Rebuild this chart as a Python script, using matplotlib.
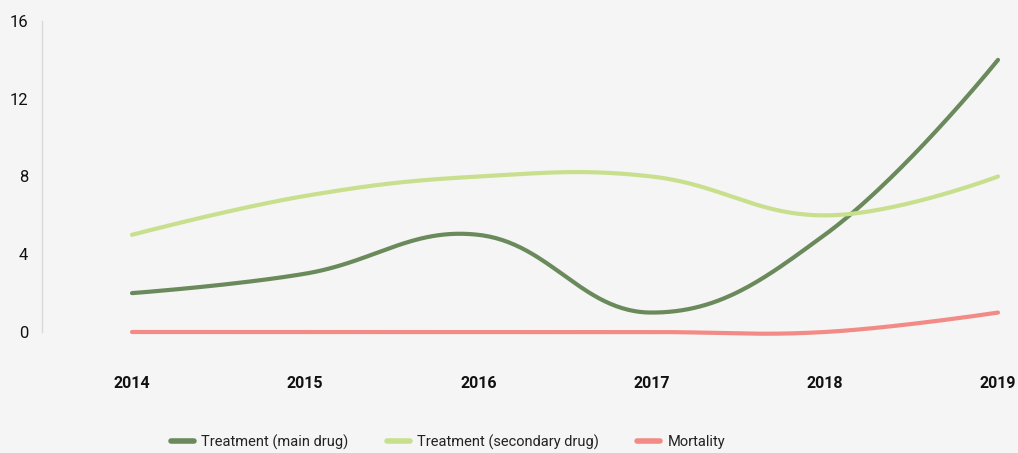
import numpy as np
import matplotlib
matplotlib.use("Agg")
import matplotlib.pyplot as plt
from matplotlib import font_manager

years = [2014, 2015, 2016, 2017, 2018, 2019]
main_drug = [2, 3, 5, 1, 5, 14]
secondary_drug = [5, 7, 8, 8, 6, 8]
mortality = [0, 0, 0, 0, 0, 1]
series_labels = ["Treatment (main drug)", "Treatment (secondary drug)", "Mortality"]
series_colors = ["#6a8a5c", "#c8e08e", "#f28b86"]
y_ticks = [0, 4, 8, 12, 16]

available = {f.name for f in font_manager.fontManager.ttflist}
family = [f for f in ["Liberation Sans Narrow", "Roboto", "DejaVu Sans"] if f in available]
plt.rcParams["font.family"] = family

BG = "#f5f5f5"
W, H = 1018, 453
fig = plt.figure(figsize=(W / 100, H / 100), dpi=100, facecolor=BG)
left_px, right_px, top_px, bottom_px = 42, 1012, 21, 332
ax = fig.add_axes([left_px / W, 1 - bottom_px / H, (right_px - left_px) / W, (bottom_px - top_px) / H])
ax.set_facecolor(BG)

px_per_year = (998 - 132) / 5
ax.set_xlim(2014 - (132 - left_px) / px_per_year, 2019 + (right_px - 998) / px_per_year)
ax.set_ylim(0, 16)


def spline_path(xs, ys, tension=0.4):
    """Cardinal-style bezier spline computed in display space."""
    pts = ax.transData.transform(np.column_stack([xs, ys]))
    n = len(pts)
    ctrl_prev = pts.copy()
    ctrl_next = pts.copy()
    for i in range(1, n - 1):
        p0, p1, p2 = pts[i - 1], pts[i], pts[i + 1]
        d01 = np.hypot(*(p1 - p0))
        d12 = np.hypot(*(p2 - p1))
        s01 = d01 / (d01 + d12)
        s12 = d12 / (d01 + d12)
        ctrl_prev[i] = p1 - tension * s01 * (p2 - p0)
        ctrl_next[i] = p1 + tension * s12 * (p2 - p0)
    out = [pts[0]]
    t = np.linspace(0, 1, 60)[1:, None]
    for i in range(n - 1):
        a, b, c, d = pts[i], ctrl_next[i], ctrl_prev[i + 1], pts[i + 1]
        seg = ((1 - t) ** 3) * a + 3 * ((1 - t) ** 2) * t * b + 3 * (1 - t) * t ** 2 * c + t ** 3 * d
        out.extend(seg)
    out = np.array(out)
    return ax.transData.inverted().transform(out).T


for vals, lab, col in zip([main_drug, secondary_drug, mortality], series_labels, series_colors):
    sx, sy = spline_path(years, vals)
    ax.plot(sx, sy, color=col, lw=3, solid_capstyle="round", clip_on=False, zorder=3)
    ax.plot([], [], color=col, lw=4, label=lab, solid_capstyle="round")

for s in ["top", "right", "bottom"]:
    ax.spines[s].set_visible(False)
ax.spines["left"].set_color("#d9d9d9")
ax.spines["left"].set_linewidth(1)

ax.set_yticks(y_ticks)
ax.set_yticklabels([str(v) for v in y_ticks], fontsize=12, color="#111111")
ax.tick_params(axis="y", length=0, pad=10)
ax.set_xticks(years)
ax.set_xticklabels([str(y) for y in years], fontsize=11.5, fontweight="bold", color="#111111")
ax.tick_params(axis="x", length=0, pad=32)

leg = fig.legend(loc="center", bbox_to_anchor=(448 / W, 1 - 442 / H), ncol=3, frameon=False,
                 fontsize=10.5, handlelength=1.6, handletextpad=0.5, columnspacing=2.6)
for t in leg.get_texts():
    t.set_color("#222222")

fig.savefig("out.png", dpi=100, facecolor=BG)
